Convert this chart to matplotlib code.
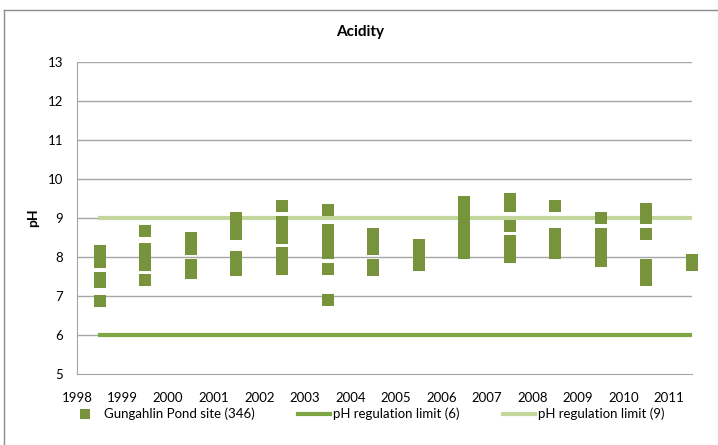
import numpy as np
import matplotlib
matplotlib.use("Agg")
import matplotlib.pyplot as plt
from matplotlib.lines import Line2D

plt.rcParams['font.family'] = ['Lato', 'DejaVu Sans']

# sampling years (mid-year) and pH readings
sample_years = [1998.5, 1999.5, 2000.5, 2001.5, 2002.5, 2003.5, 2004.5,
                2005.5, 2006.5, 2007.5, 2008.5, 2009.5, 2010.5, 2011.5]
ph_1998 = [8.15, 8.0, 7.87, 7.47, 7.35, 6.87]
ph_1999 = [8.66, 8.2, 8.1, 8.0, 7.9, 7.8, 7.41]
ph_2000 = [8.5, 8.4, 8.3, 8.2, 7.8, 7.7, 7.6]
ph_2001 = [9.0, 8.9, 8.8, 8.7, 8.6, 8.0, 7.9, 7.8, 7.7, 7.67]
ph_2002 = [9.3, 8.9, 8.8, 8.7, 8.6, 8.5, 8.1, 8.0, 7.9, 7.8, 7.7]
ph_2003 = [9.21, 8.7, 8.6, 8.5, 8.4, 8.3, 8.2, 8.1, 7.7, 6.91]
ph_2004 = [8.6, 8.5, 8.4, 8.3, 8.2, 7.8, 7.67]
ph_2005 = [8.3, 8.2, 8.1, 8.0, 7.9, 7.8]
ph_2006 = [9.4, 9.3, 9.2, 9.1, 9.0, 8.9, 8.8, 8.7, 8.6, 8.5, 8.4, 8.3, 8.2, 8.1]
ph_2007 = [9.5, 9.4, 9.3, 8.79, 8.4, 8.3, 8.2, 8.1, 8.0]
ph_2008 = [9.3, 8.6, 8.5, 8.4, 8.3, 8.2, 8.1]
ph_2009 = [9.0, 8.6, 8.5, 8.4, 8.3, 8.2, 8.1, 8.0, 7.9]
ph_2010 = [9.22, 9.1, 9.0, 8.6, 7.8, 7.7, 7.6, 7.5, 7.4]
ph_2011 = [7.92, 7.8]
ph_by_year = [ph_1998, ph_1999, ph_2000, ph_2001, ph_2002, ph_2003, ph_2004,
              ph_2005, ph_2006, ph_2007, ph_2008, ph_2009, ph_2010, ph_2011]

limit_x = [1998.5, 2011.5]
limit_low = 6
limit_high = 9

year_ticks = list(range(1998, 2012))
ph_ticks = list(range(5, 14))

fig = plt.figure(figsize=(7.18, 4.45), dpi=100)
ax = fig.add_axes([77/718, 1 - 374/445, (692 - 77)/718, (374 - 62)/445])

# chart border (Excel style), cut off at right and bottom
bx = 3.5/718
by = 1 - 9.5/445
fig.add_artist(Line2D([bx, bx], [0, by], transform=fig.transFigure, color='#8c8c8c', lw=1))
fig.add_artist(Line2D([bx, 1], [by, by], transform=fig.transFigure, color='#8c8c8c', lw=1))

for y in ph_ticks[1:]:
    ax.axhline(y, color='#a6a6a6', lw=1, zorder=1)

ax.plot(limit_x, [limit_low, limit_low], color='#7ea642', lw=3, zorder=2)
ax.plot(limit_x, [limit_high, limit_high], color='#c3d69b', lw=3, zorder=2)

xs = []
ys = []
for yr, vals in zip(sample_years, ph_by_year):
    for v in vals:
        xs.append(yr)
        ys.append(v)
ax.plot(xs, ys, 's', color='#77933c', markersize=8.2, markeredgewidth=0,
        zorder=3, clip_on=False)

ax.set_xlim(1998, 2011.5)
ax.set_ylim(5, 13)
ax.set_xticks(year_ticks)
ax.set_yticks(ph_ticks)
ax.tick_params(length=0, labelsize=9.5, colors='black')
ax.tick_params(axis='y', pad=10)
ax.tick_params(axis='x', pad=13)
for s in ['top', 'right']:
    ax.spines[s].set_visible(False)
for s in ['left', 'bottom']:
    ax.spines[s].set_color('#a6a6a6')

ax.set_ylabel('pH', fontsize=10, fontweight='bold', labelpad=6)
fig.text(360/718, 1 - 32/445, 'Acidity', ha='center', va='center', fontsize=11, fontweight='bold')

handles = [
    Line2D([], [], marker='s', ls='', color='#77933c', markersize=7.5, markeredgewidth=0),
    Line2D([], [], color='#7ea642', lw=3),
    Line2D([], [], color='#c3d69b', lw=3),
]
labels = ['Gungahlin Pond site (346)', 'pH regulation limit (6)', 'pH regulation limit (9)']
fig.legend(handles, labels, loc='center left', bbox_to_anchor=(69/718, 1 - 414/445), ncol=3,
           frameon=False, fontsize=9.5, handlelength=2.4, handletextpad=0.25,
           columnspacing=3.3, borderpad=0, borderaxespad=0)

fig.savefig('out.png', dpi=100)
